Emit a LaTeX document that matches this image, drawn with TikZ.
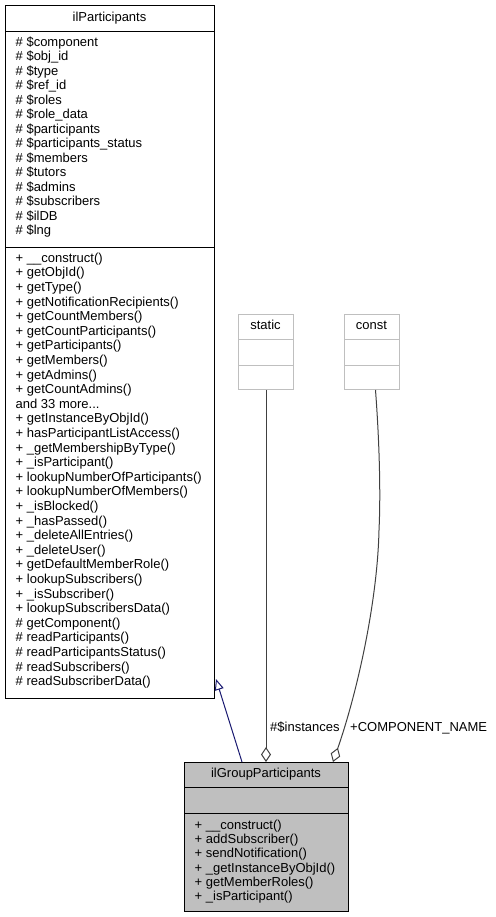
\documentclass[tikz,border=0pt]{standalone}
\usepackage{fontspec}
\setmainfont{Liberation Sans}
\usetikzlibrary{arrows.meta,calc}
\definecolor{boxgray}{HTML}{BFBFBF}
\definecolor{edgegray}{HTML}{404040}
\definecolor{inhblue}{HTML}{191970}
\newcommand\mythreedots{...}
\begin{document}
\begin{tikzpicture}[x=1pt,y=-1pt,
  txt/.style={font=\fontsize{13}{14.5}\selectfont, inner sep=0pt, text height=9.4pt, text depth=2.7pt},
  member/.style={txt, anchor=west},
  clsbox/.style={draw=black, line width=1pt, anchor=north west, inner sep=0pt},
  litebox/.style={draw=boxgray, line width=1pt, anchor=north west, inner sep=0pt},
  divider/.style={line width=1pt},
  inherit/.style={draw=inhblue, line width=1pt, -{Triangle[open, length=11pt, width=9pt]}},
  aggr/.style={draw=edgegray, line width=1pt, -{Diamond[open, length=15pt, width=10pt]}},
  elabel/.style={txt, anchor=west}]
\useasboundingbox (0,0) rectangle (495,917);

% ilParticipants
\node[clsbox, minimum width=209pt, minimum height=693pt] (P) at (5,5) {};
\node[txt] (Ptitle) at (109.5,18) {ilParticipants};
\draw[divider] (P.west |- 0,32) -- (P.east |- 0,32);
\draw[divider] (P.west |- 0,247) -- (P.east |- 0,247);
\foreach \t [count=\i from 0] in {
  \# \$component, \# \$obj\_id, \# \$type, \# \$ref\_id, \# \$roles,
  \# \$role\_data, \# \$participants, \# \$participants\_status,
  \# \$members, \# \$tutors, \# \$admins, \# \$subscribers,
  \# \$ilDB, \# \$lng}
  \node[member] (pa\i) at (15.5,{43+14.5*\i}) {\t};
\foreach \t [count=\i from 0] in {
  + \_\_construct(), + getObjId(), + getType(), + getNotificationRecipients(),
  + getCountMembers(), + getCountParticipants(), + getParticipants(),
  + getMembers(), + getAdmins(), + getCountAdmins(), and 33 more\mythreedots,
  + getInstanceByObjId(), + hasParticipantListAccess(),
  + \_getMembershipByType(), + \_isParticipant(),
  + lookupNumberOfParticipants(), + lookupNumberOfMembers(),
  + \_isBlocked(), + \_hasPassed(), + \_deleteAllEntries(),
  + \_deleteUser(), + getDefaultMemberRole(), + lookupSubscribers(),
  + \_isSubscriber(), + lookupSubscribersData(), \# getComponent(),
  \# readParticipants(), \# readParticipantsStatus(),
  \# readSubscribers(), \# readSubscriberData()}
  \node[member] (pm\i) at (15.5,{259+14.6*\i}) {\t};

% static
\node[litebox, minimum width=55pt, minimum height=75pt] (S) at (238,314) {};
\node[txt] (Stitle) at (265.5,326) {static};
\draw[divider, boxgray] (S.west |- 0,339) -- (S.east |- 0,339);
\draw[divider, boxgray] (S.west |- 0,365) -- (S.east |- 0,365);

% const
\node[litebox, minimum width=55pt, minimum height=75pt] (C) at (344,314) {};
\node[txt] (Ctitle) at (371.5,326) {const};
\draw[divider, boxgray] (C.west |- 0,339) -- (C.east |- 0,339);
\draw[divider, boxgray] (C.west |- 0,365) -- (C.east |- 0,365);

% ilGroupParticipants
\node[clsbox, fill=boxgray, minimum width=164pt, minimum height=149pt] (G) at (184,762) {};
\node[txt] (Gtitle) at (266,774) {ilGroupParticipants};
\draw[divider] (G.west |- 0,787) -- (G.east |- 0,787);
\draw[divider] (G.west |- 0,813) -- (G.east |- 0,813);
\foreach \t [count=\i from 0] in {
  + \_\_construct(), + addSubscriber(), + sendNotification(),
  + \_getInstanceByObjId(), + getMemberRoles(), + \_isParticipant()}
  \node[member] (gm\i) at (194.5,{826+14.3*\i}) {\t};

% connectors
\draw[inherit] ($(G.north west)+(58,0)$) -- ($(P.south east)+(1,-20)$);
\draw[aggr] (S.south) -- (S.south |- G.north);
\coordinate (cmid) at (379,530);
\draw[aggr] ($(C.south)+(3.5,0)$) .. controls (380,450) and (380.5,500) .. (cmid)
  .. controls (377.5,600) and (358,690) .. ($(G.north east)+(-16,0)$);
\node[elabel] (linst) at (270,728) {\#\$instances};
\node[elabel] (lcomp) at (350,728) {+COMPONENT\_NAME};
\end{tikzpicture}
\end{document}
